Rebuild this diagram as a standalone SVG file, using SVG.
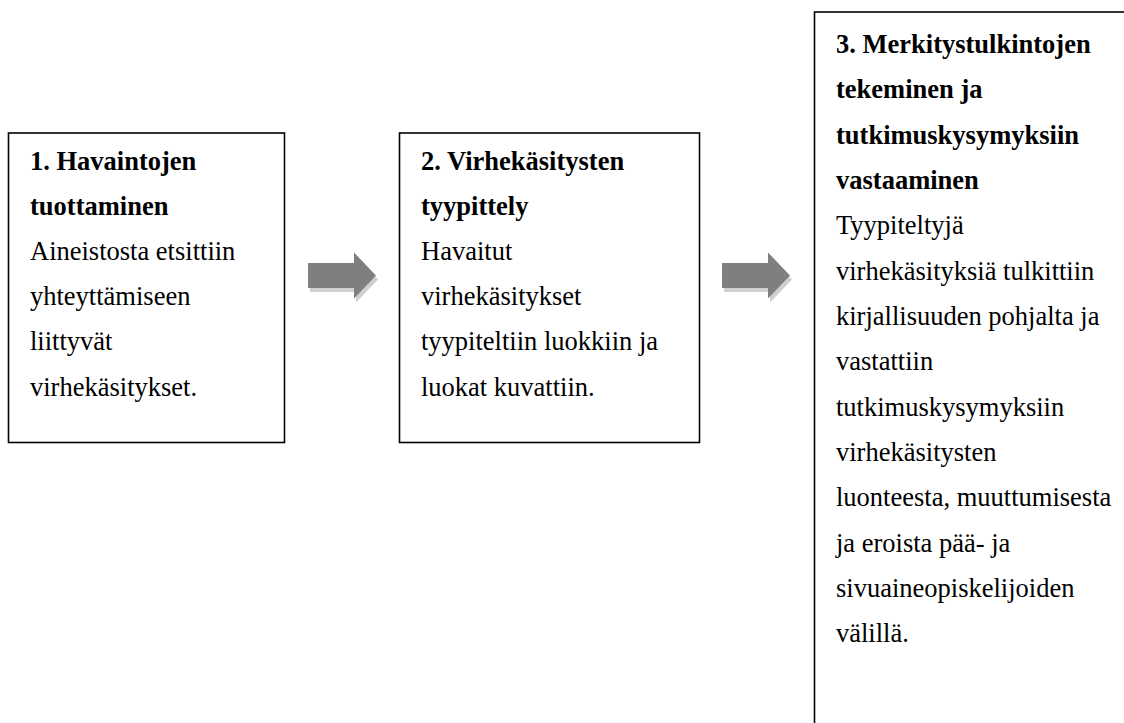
<svg xmlns="http://www.w3.org/2000/svg" width="1124" height="723" viewBox="0 0 1124 723">
<style>
.box{fill:#fff;stroke:#000;stroke-width:1.6}
.t{font-family:"Liberation Serif","Times New Roman",serif;font-size:26.5px;fill:#000}
.b{font-weight:bold}
.arr{fill:#7f7f7f}
.sh{fill:#cfcfcf}
</style>
<defs>
<path id="arrowShape" d="M0,263 H46 V252.5 L68,275.5 L46,298.5 V288 H0 Z"/>
</defs>
<rect width="1124" height="723" fill="#fff"/>
<g id="connectors">
<g id="arrow1" transform="translate(308,0)">
<use href="#arrowShape" class="sh" transform="translate(2,4)"/>
<use href="#arrowShape" class="arr"/>
</g>
<g id="arrow2" transform="translate(722,0)">
<use href="#arrowShape" class="sh" transform="translate(2,4)"/>
<use href="#arrowShape" class="arr"/>
</g>
</g>
<g id="node1">
<rect class="box" x="8.5" y="133" width="276" height="309.5"/>
<text class="t b" x="30" y="170">1. Havaintojen</text>
<text class="t b" x="30" y="215">tuottaminen</text>
<text class="t" x="30" y="260">Aineistosta etsittiin</text>
<text class="t" x="30" y="305">yhteyttämiseen</text>
<text class="t" x="30" y="350">liittyvät</text>
<text class="t" x="30" y="396">virhekäsitykset.</text>
</g>
<g id="node2">
<rect class="box" x="399.5" y="133" width="300" height="309.5"/>
<text class="t b" x="421" y="170">2. Virhekäsitysten</text>
<text class="t b" x="421" y="215">tyypittely</text>
<text class="t" x="421" y="260">Havaitut</text>
<text class="t" x="421" y="305">virhekäsitykset</text>
<text class="t" x="421" y="350">tyypiteltiin luokkiin ja</text>
<text class="t" x="421" y="396">luokat kuvattiin.</text>
</g>
<g id="node3">
<rect class="box" x="814.5" y="12" width="320" height="730"/>
<text class="t b" x="836" y="53">3. Merkitystulkintojen</text>
<text class="t b" x="836" y="98">tekeminen ja</text>
<text class="t b" x="836" y="144">tutkimuskysymyksiin</text>
<text class="t b" x="836" y="189">vastaaminen</text>
<text class="t" x="836" y="234">Tyypiteltyjä</text>
<text class="t" x="836" y="280">virhekäsityksiä tulkittiin</text>
<text class="t" x="836" y="325">kirjallisuuden pohjalta ja</text>
<text class="t" x="836" y="370">vastattiin</text>
<text class="t" x="836" y="416">tutkimuskysymyksiin</text>
<text class="t" x="836" y="461">virhekäsitysten</text>
<text class="t" x="836" y="506">luonteesta, muuttumisesta</text>
<text class="t" x="836" y="552">ja eroista pää- ja</text>
<text class="t" x="836" y="597">sivuaineopiskelijoiden</text>
<text class="t" x="836" y="642">välillä.</text>
</g>
</svg>
